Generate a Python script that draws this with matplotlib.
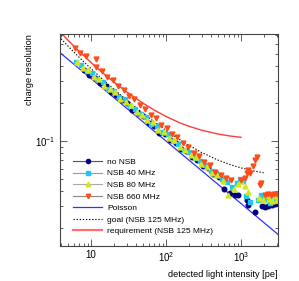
import matplotlib
matplotlib.use("Agg")
import matplotlib.pyplot as plt
from matplotlib.lines import Line2D
from matplotlib.ticker import LogLocator, NullFormatter

plt.rcParams["font.family"] = ["Liberation Sans", "DejaVu Sans"]
plt.rcParams["mathtext.fontset"] = "custom"
plt.rcParams["mathtext.rm"] = "Liberation Sans"
plt.rcParams["mathtext.it"] = "Liberation Sans:italic"

# no NSB
n_nonsb = [8.0, 9.5, 11.2, 13.2, 15.6, 18.4, 21.7, 25.6, 30.2, 35.6, 42.1, 49.7, 58.5, 69.1,
           81.5, 96.2, 113, 134, 158, 187, 220, 259, 307, 362, 427, 503, 594, 702, 827,
           912, 1191, 1250, 1538, 1888, 2089, 2312, 2564, 2840, 3048]
r_nonsb = [0.371, 0.337, 0.320, 0.289, 0.273, 0.247, 0.234, 0.211, 0.200, 0.178, 0.168, 0.159,
           0.140, 0.132, 0.116, 0.113, 0.102, 0.0968, 0.0868, 0.0826, 0.0741, 0.0708, 0.0634,
           0.0605, 0.0547, 0.0517, 0.0415, 0.0385, 0.0368,
           0.037, 0.0337, 0.0308, 0.0272, 0.0302, 0.0298, 0.0302, 0.0308, 0.0314, 0.0321]

# NSB 40 MHz
n_40 = [6.3, 7.4, 8.8, 10.4, 12.2, 14.4, 17.0, 20.1, 23.7, 28.0, 33.0, 39.0, 46.0, 54.2, 64.0,
        75.5, 89.1, 105, 124, 146, 173, 204, 240, 284, 335, 395, 466, 550, 650, 766,
        870, 960, 1060, 1180, 1300, 1700, 1850, 2000, 2200, 2400, 2650, 2900, 3080]
r_40 = [0.430, 0.404, 0.361, 0.347, 0.312, 0.298, 0.262, 0.250, 0.226, 0.215, 0.190, 0.181,
        0.164, 0.156, 0.1375, 0.1312, 0.1186, 0.1132, 0.0997, 0.0952, 0.0851, 0.0819, 0.0729,
        0.0688, 0.0644, 0.0573, 0.0551, 0.0498, 0.0474, 0.0426,
        0.046, 0.050, 0.048, 0.036, 0.0325, 0.0335, 0.037, 0.034, 0.0345, 0.032, 0.0355,
        0.033, 0.035]

# NSB 80 MHz
n_80 = [6.55, 7.7, 9.15, 10.8, 12.7, 15.0, 17.7, 20.9, 24.6, 29.1, 34.3, 40.6, 47.8, 56.4,
        66.6, 78.5, 92.7, 109, 129, 152, 180, 212, 250, 295, 348, 411, 485, 572, 676, 797,
        900, 1000, 1120, 1250, 1750, 1950, 2150, 2350, 2600, 2850, 3050]
r_80 = [0.426, 0.382, 0.367, 0.328, 0.314, 0.276, 0.262, 0.247, 0.2175, 0.2057, 0.1946, 0.1711,
        0.1618, 0.1465, 0.1410, 0.1231, 0.1173, 0.1062, 0.1022, 0.0893, 0.0849, 0.0768,
        0.0739, 0.0658, 0.0615, 0.0552, 0.0536, 0.0477, 0.0372, 0.0411,
        0.045, 0.048, 0.044, 0.039, 0.035, 0.0335, 0.037, 0.0345, 0.033, 0.036, 0.034]

# NSB 660 MHz
n_660 = [6.1, 7.2, 8.5, 11.5, 11.8, 14.0, 16.5, 19.5, 23.0, 27.2, 32.0, 37.8, 44.6, 52.6, 62.1,
         73.2, 86.4, 102, 120, 142, 168, 198, 233, 275, 325, 383, 452, 534, 630, 743,
         1000, 1131, 1202, 1239, 1318, 1445, 1538, 1636, 1791, 1850, 2089, 2300, 2512,
         2754, 3020]
r_660 = [0.558, 0.508, 0.479, 0.453, 0.392, 0.366, 0.327, 0.308, 0.273, 0.257, 0.230, 0.216,
         0.193, 0.181, 0.161, 0.152, 0.1355, 0.1278, 0.114, 0.1076, 0.0957, 0.0903, 0.0806,
         0.0759, 0.0676, 0.0639, 0.0569, 0.0537, 0.0505, 0.0484,
         0.0488, 0.0506, 0.0555, 0.0586, 0.0555, 0.0631, 0.0705, 0.0745, 0.0445, 0.0461,
         0.037, 0.038, 0.037, 0.0375, 0.038]

# reference curves
n_poisson = [3.86, 3110]
r_poisson = [0.509, 0.0179]
n_goal = [3.5, 4, 5, 7, 10, 15, 20, 30, 50, 70, 100, 150, 200, 300, 500, 700, 1000, 1500, 2000]
r_goal = [0.715, 0.656, 0.570, 0.465, 0.379, 0.3035, 0.2608, 0.2122, 0.1658, 0.1421, 0.1217,
          0.1032, 0.0927, 0.0808, 0.0701, 0.0650, 0.0609, 0.0575, 0.0557]
n_req = [3.5, 4, 5, 7, 10, 15, 20, 30, 50, 70, 100, 150, 200, 300, 500, 700, 1000]
r_req = [0.798, 0.731, 0.635, 0.519, 0.4246, 0.343, 0.2976, 0.2468, 0.1997, 0.1764, 0.157,
         0.1404, 0.1314, 0.1218, 0.1135, 0.1098, 0.107]

c_nonsb = "#000080"
c_40 = "#1ec8f5"
c_80 = "#d2e61e"
c_660 = "#ff4b19"
c_req = "#ff3c3c"

fig = plt.figure(figsize=(2.99, 2.81), dpi=100)
ax = fig.add_axes([0.2007, 0.1246, 0.7291, 0.7544])

ax.plot(n_poisson, r_poisson, color="#3030ff", lw=0.9)
ax.plot(n_goal, r_goal, color="black", lw=0.8, ls=(0, (1.2, 1.6)))
ax.plot(n_req, r_req, color=c_req, lw=1.0)

ax.plot(n_nonsb, r_nonsb, ls="none", marker="o", ms=3.3, color=c_nonsb, mec=c_nonsb)
ax.plot(n_40, r_40, ls="none", marker="s", ms=3.2, color=c_40, mec=c_40)
ax.plot(n_80, r_80, ls="none", marker="^", ms=3.5, color=c_80, mec=c_80)
ax.plot(n_660, r_660, ls="none", marker="v", ms=3.5, color=c_660, mec=c_660)

ax.set_xscale("log")
ax.set_yscale("log")
ax.set_xlim(3.86, 3110)
ax.set_ylim(0.01445, 0.718)

ax.set_xticks([10, 100, 1000])
ax.set_xticklabels(["10", "$10^{2}$", "$10^{3}$"])
ax.xaxis.set_minor_locator(LogLocator(base=10, subs=range(2, 10)))
ax.xaxis.set_minor_formatter(NullFormatter())
ax.set_yticks([0.1])
ax.set_yticklabels(["$10^{-1}$"])
ax.yaxis.set_minor_locator(LogLocator(base=10, subs=range(2, 10)))
ax.yaxis.set_minor_formatter(NullFormatter())

ax.tick_params(which="both", direction="in", top=True, right=True, labelsize=7,
               width=0.6, color="#444444")
ax.tick_params(which="major", length=5, pad=3)
ax.tick_params(which="minor", length=2.5)
for s in ax.spines.values():
    s.set_linewidth(0.8)
    s.set_color("#444444")

ax.set_xlabel("detected light intensity [pe]", fontsize=6.6, loc="right", labelpad=4)
ax.set_ylabel("charge resolution", fontsize=6.6, loc="top", labelpad=1)

handles = [
    Line2D([], [], color="#555555", lw=0.8, marker="o", ms=3.0, mfc=c_nonsb, mec=c_nonsb),
    Line2D([], [], color="#999999", lw=0.8, marker="s", ms=3.0, mfc=c_40, mec=c_40),
    Line2D([], [], color="#aaaaaa", lw=0.8, marker="^", ms=3.2, mfc=c_80, mec=c_80),
    Line2D([], [], color="#888888", lw=0.8, marker="v", ms=3.2, mfc=c_660, mec=c_660),
    Line2D([], [], color="#3030ff", lw=0.9),
    Line2D([], [], color="black", lw=0.8, ls=(0, (1.2, 1.6))),
    Line2D([], [], color="#ff7070", lw=1.6),
]
labels = ["no NSB", "NSB 40 MHz", "NSB 80 MHz", "NSB 660 MHz", "Poisson",
          "goal (NSB 125 MHz)", "requirement (NSB 125 MHz)"]
ax.legend(handles, labels, loc="upper left", bbox_to_anchor=(0.06, 0.415), frameon=False,
          fontsize=6.0, handlelength=3.5, handletextpad=0.6, labelspacing=0.45,
          borderpad=0, borderaxespad=0)

fig.savefig("out.png", dpi=100)
